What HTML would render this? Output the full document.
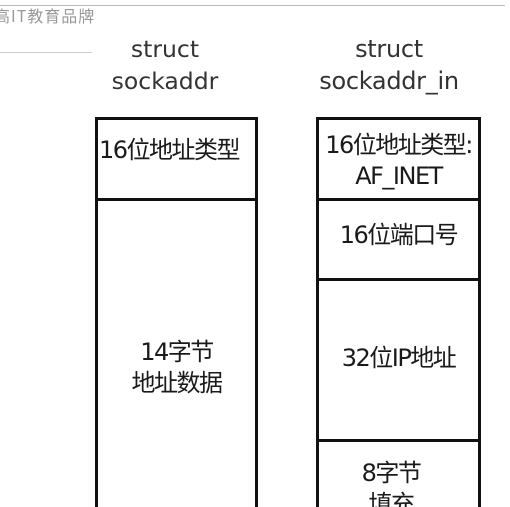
<!DOCTYPE html>
<html style="overflow:hidden;width:510px;height:507px"><head><meta charset="utf-8"><style>
html,body{margin:0;width:510px;height:507px;overflow:hidden}
body{background:#fff;position:relative;font-family:"DejaVu Sans","Noto Sans CJK SC",sans-serif;color:#1a1a1a}
.a{position:absolute;white-space:nowrap}
.c{text-align:center}
.b{position:absolute;border:3px solid #111;box-sizing:border-box}
.h{position:absolute;height:3px;background:#111}
.t{font-size:24px;font-family:"DejaVu Sans","Noto Sans CJK SC",sans-serif;letter-spacing:-1.5px}
</style></head><body>
<div style="position:absolute;left:0;top:5px;width:505px;height:1px;background:#bbb"></div>
<div class="a" style="left:-6px;top:3px;font-size:16px;color:#999;letter-spacing:1px;font-family:'Noto Sans CJK SC',sans-serif">高IT教育品牌</div>
<div style="position:absolute;left:0;top:52px;width:92px;height:1px;background:#ccc"></div>

<div class="a c" style="left:95px;width:140px;top:33px;font-size:23.5px;line-height:32px;color:#333">struct<br>sockaddr</div>
<div class="a c" style="left:308px;width:162px;top:33px;font-size:24px;line-height:32px;color:#333;letter-spacing:-0.3px">struct<br>sockaddr_in</div>

<div class="b" style="left:95px;top:117px;width:163px;height:395px"></div>
<div class="h" style="left:95px;top:198px;width:163px"></div>
<div class="a t" style="left:99px;top:130px">16位地址类型</div>
<div class="a t c" style="left:95px;width:163px;top:337px;line-height:31px">14字节<br>地址数据</div>

<div class="b" style="left:316px;top:117px;width:165px;height:395px"></div>
<div class="h" style="left:316px;top:198px;width:165px"></div>
<div class="h" style="left:316px;top:278px;width:165px"></div>
<div class="h" style="left:316px;top:439px;width:165px"></div>
<div class="a t c" style="left:316px;width:165px;top:130px;line-height:31px">16位地址类型:<br>AF_INET</div>
<div class="a t c" style="left:316px;width:165px;top:215px">16位端口号</div>
<div class="a t c" style="left:316px;width:165px;top:338px">32位IP地址</div>
<div class="a t c" style="left:316px;width:150px;top:458px;line-height:31px">8字节<br>填充</div>
</body></html>
